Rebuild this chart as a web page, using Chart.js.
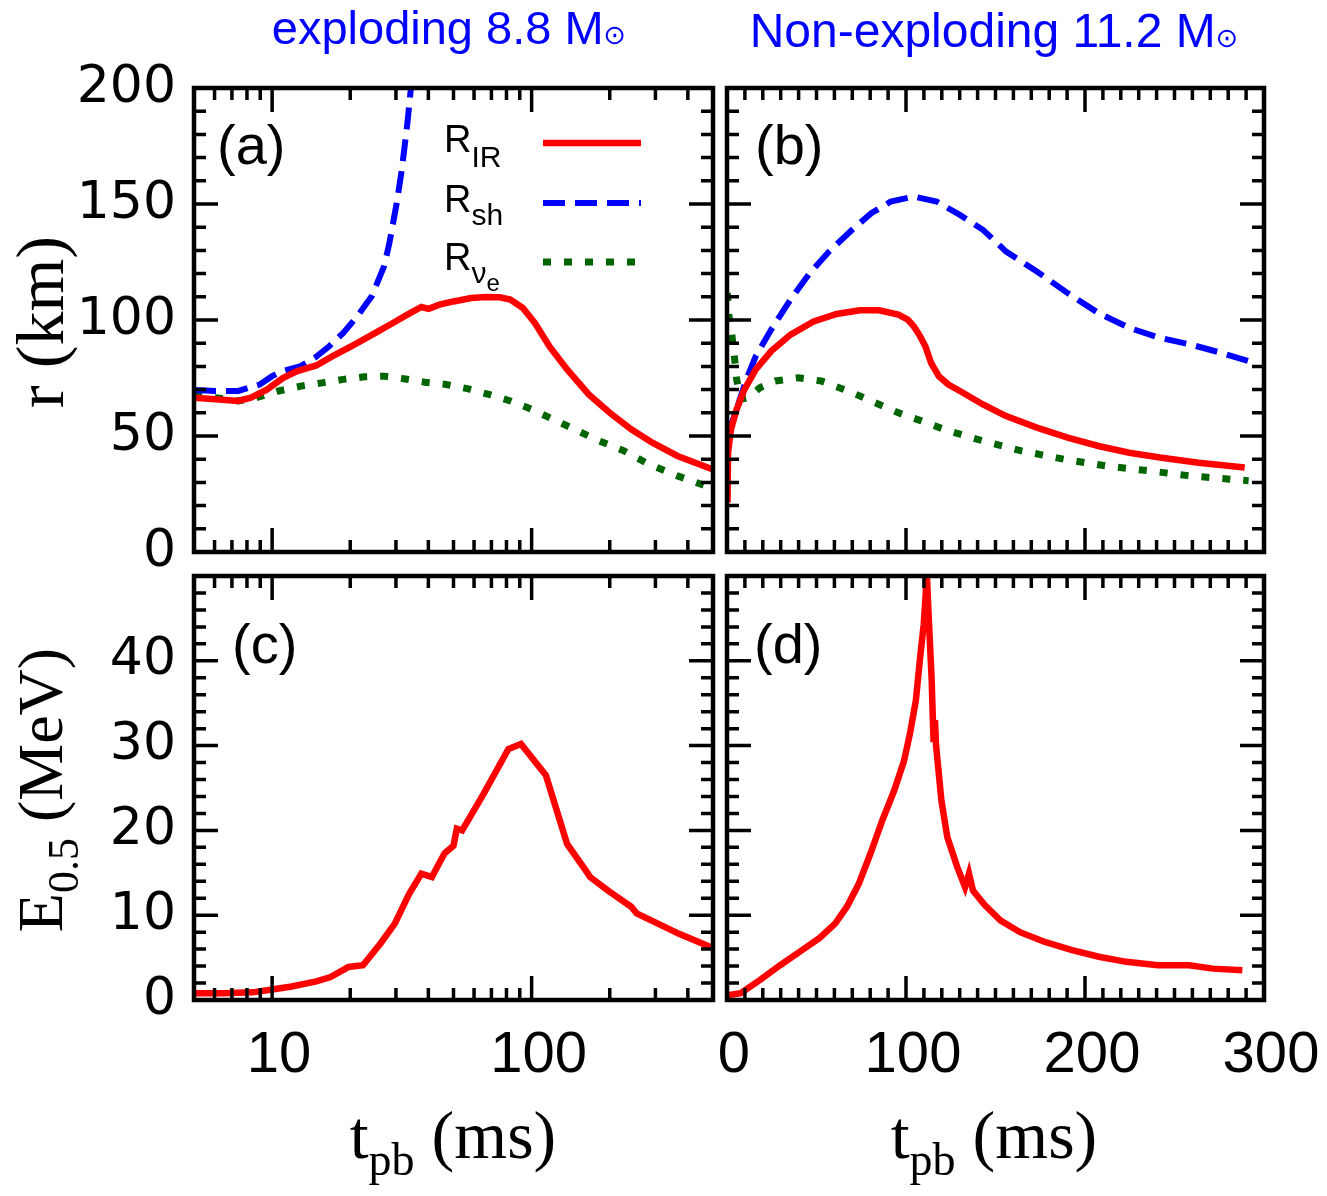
<!DOCTYPE html>
<html lang="en">
<head>
<meta charset="utf-8">
<title>Radii and E0.5 vs post-bounce time</title>
<script src="https://cdn.jsdelivr.net/npm/chart.js@4.4.1/dist/chart.umd.min.js"></script>
<style>
  html, body { margin: 0; padding: 0; background: #ffffff; }
  #figure { position: relative; width: 1327px; height: 1196px; }
  #figure canvas { position: absolute; left: 0; top: 0; }
</style>
</head>
<body>
<div id="figure">
  <canvas id="panelA" width="1327" height="1196"></canvas>
  <canvas id="panelB" width="1327" height="1196"></canvas>
  <canvas id="panelC" width="1327" height="1196"></canvas>
  <canvas id="panelD" width="1327" height="1196"></canvas>
</div>
<script>
// Radii (top) and E_0.5 (bottom) vs t_pb, exploding 8.8 / non-exploding 11.2 Msun

// ---- (a) exploding 8.8, r [km] vs t_pb [ms], log time axis
const irTimeA = [5, 6.05, 7.41, 8.28, 9.54, 11.0, 12.5, 14.8, 17.1, 20.0, 22.3, 25.7, 29.2, 33.2, 37.6, 40.1, 44.1, 50, 58.5, 66.4, 75.3, 82.8, 92.5, 103, 117, 137, 166, 200, 242, 292, 365, 477, 500];
const irRadiusA = [66.5, 65.8, 65.1, 66.5, 70, 75, 78, 80.4, 84.4, 88.4, 91.3, 95.2, 98.7, 102.3, 105.6, 104.8, 106.6, 108, 109.5, 109.9, 109.8, 108.8, 105.2, 98.7, 88.7, 78.7, 67.9, 60, 52.9, 47.1, 41.4, 36.4, 35.6];
const shTimeA = [5, 6.05, 7.41, 8.96, 10, 11.0, 12.9, 14.6, 16.6, 18.8, 21.3, 24.2, 27.0, 28.3, 30.2, 31.6, 33.2, 34.2, 34.7];
const shRadiusA = [69.8, 69.4, 69.4, 72.2, 75.8, 78, 80.1, 83.7, 88.7, 94.4, 101.6, 110.2, 123.1, 133.1, 150.3, 164.7, 184.7, 199, 207.6];
const nuTimeA = [5, 6.05, 7.41, 8.67, 10.6, 12.9, 15.6, 18.8, 22.7, 27.0, 32.1, 38.8, 46.9, 56.6, 68.5, 82.8, 100, 121, 146, 182, 227, 283, 365, 469, 500];
const nuRadiusA = [67.5, 66.5, 65.1, 66.5, 69.4, 71.5, 72.9, 74.4, 75.5, 75.8, 74.7, 73.2, 72.2, 70.4, 67.9, 65.1, 61.5, 57.2, 52.9, 47.9, 43.6, 37.8, 32.8, 28.5, 27.8];

// ---- (b) non-exploding 11.2, linear time axis
const irTimeB = [0.3, 0.6, 2.2, 5.4, 9.7, 16.1, 24.7, 35.5, 48.4, 61.3, 74.2, 84.9, 95.7, 101, 104.3, 107.5, 110.8, 114, 118.3, 123.7, 130.1, 143, 155.9, 173.1, 190.3, 207.5, 224.7, 241.9, 263.4, 289.2];
const irRadiusB = [21.4, 42.8, 52.9, 61.5, 70, 78.7, 86.6, 93.7, 99.4, 102.6, 104.2, 104.2, 102.3, 100.2, 97.3, 93.5, 88.7, 81.5, 75.8, 72.2, 69.4, 63.6, 58.6, 53.6, 49.3, 45.7, 42.8, 40.7, 38.5, 36.4];
const shTimeB = [0, 5.4, 10.8, 16.1, 24.7, 35.5, 46.2, 57, 69.9, 80.6, 91.4, 104.3, 117.2, 130.1, 143, 155.9, 173.1, 190.3, 207.5, 224.7, 241.9, 259.1, 276.3, 291.4];
const shRadiusB = [50, 61.5, 74.4, 84.4, 95.9, 108.8, 120.2, 129.5, 138.9, 146, 151, 153.2, 151, 145.3, 138.9, 129.5, 120.9, 111.6, 103, 96.6, 92.3, 89.4, 85.8, 82.3];
const nuTimeB = [0.2, 1.1, 2.8, 4.3, 5.4, 7.5, 11.8, 18.3, 26.9, 39.8, 52.7, 67.7, 80.6, 95.7, 108.6, 123.7, 143, 164.5, 188.2, 211.8, 235.5, 259.1, 291.4];
const nuRadiusB = [111.6, 101.6, 93, 83, 74.4, 65.8, 66.5, 70.8, 73.7, 75.1, 73.7, 69.4, 65.1, 60, 56.5, 52.2, 47.9, 43.6, 40, 37.1, 35, 32.8, 30.7];

// ---- (c), (d) E_0.5 [MeV]
const eTimeC = [5, 6.53, 8.41, 9.84, 11.9, 14.8, 16.8, 19.7, 22.4, 26.2, 29.7, 33.7, 37.6, 41.3, 43.3, 46.2, 50, 51.5, 54, 65.3, 81.4, 91, 113.5, 137, 163, 168, 197, 242, 254, 370, 484, 500];
const eValueC = [0.8, 0.8, 0.9, 1.2, 1.6, 2.2, 2.7, 3.9, 4.1, 6.7, 9.0, 12.5, 14.9, 14.5, 15.7, 17.3, 18.2, 20.2, 20, 24.3, 29.6, 30.2, 26.5, 18.4, 15.1, 14.5, 12.9, 11, 10.2, 7.8, 6.3, 6.1];
const eTimeD = [0, 1.1, 7.7, 18.7, 29.7, 40.7, 51.6, 60.4, 67, 73.6, 80.2, 86.8, 93.4, 98.9, 102.2, 105.5, 107.7, 109.9, 111, 111.6, 112.7, 114.3, 115.4, 116.2, 116.8, 119.8, 123.1, 128.6, 133, 135.2, 137.4, 144, 152.7, 163.7, 176.9, 192.3, 207.7, 223.1, 240.7, 258.2, 271.4, 287.9];
const eValueD = [0, 0.6, 0.8, 2.4, 4.1, 5.7, 7.3, 9.0, 11, 13.7, 17.3, 21.2, 24.7, 28.2, 31.4, 35.3, 40, 44.3, 47.8, 50.5, 45.1, 38, 30.4, 33.0, 30.0, 23.5, 19.2, 15.7, 13.3, 14.9, 12.9, 11.2, 9.4, 8.0, 6.9, 5.9, 5.1, 4.5, 4.1, 4.1, 3.7, 3.5];

// ---- tick values
const logMajor = [10, 100];
const logMinor = [6, 7, 8, 9, 20, 30, 40, 50, 60, 70, 80, 90, 200, 300, 400];
const linMajor = [0, 100, 200, 300];
const radiusMajor = [0, 50, 100, 150, 200];
const energyMajor = [0, 10, 20, 30, 40, 50];

const SANS = '"Liberation Sans", Arial, sans-serif';
const SERIF = '"Liberation Serif", "Times New Roman", serif';
const DEJAVU = '"DejaVu Sans", sans-serif';

const RED = '#ff0000';
const BLUE = '#0000ff';
const GREEN = '#006400';
const SH_DASH = [22, 10];
const NU_DASH = [8, 13];

const pts = (xs, ys) => xs.map((v, i) => ({ x: v, y: ys[i] }));
const every = (from, to, step) => {
  const out = [];
  for (let v = from; v <= to + 1e-9; v += step) out.push(+v.toFixed(6));
  return out;
};

const irLine = (data) => ({ data, borderColor: RED, borderWidth: 6.5 });
const shLine = (data) => ({ data, borderColor: BLUE, borderWidth: 6, borderDash: SH_DASH });
const nuLine = (data) => ({ data, borderColor: GREEN, borderWidth: 7, borderDash: NU_DASH });

// text with subscript pieces, drawn left to right
function drawParts(ctx, parts, x, y, align) {
  let w = 0;
  parts.forEach((p) => { ctx.font = p.font; p.w = ctx.measureText(p.t).width; w += p.w; });
  let cx = align === 'center' ? x - w / 2 : x;
  parts.forEach((p) => {
    ctx.font = p.font;
    ctx.fillText(p.t, cx, y + (p.dy || 0));
    cx += p.w;
  });
}

function drawFrame(chart, p) {
  const { ctx, chartArea: a } = chart;
  const xs = chart.scales.x;
  const ys = chart.scales.y;
  ctx.save();
  ctx.strokeStyle = '#000';
  ctx.lineWidth = 3.5;
  ctx.setLineDash([]);
  ctx.beginPath();
  const xTicks = (vals, len) => vals.forEach((v) => {
    const px = xs.getPixelForValue(v);
    ctx.moveTo(px, a.top); ctx.lineTo(px, a.top + len);
    ctx.moveTo(px, a.bottom); ctx.lineTo(px, a.bottom - len);
  });
  const yTicks = (vals, len) => vals.forEach((v) => {
    const py = ys.getPixelForValue(v);
    ctx.moveTo(a.left, py); ctx.lineTo(a.left + len, py);
    ctx.moveTo(a.right, py); ctx.lineTo(a.right - len, py);
  });
  xTicks(p.xMinor, 12);
  xTicks(p.xMajor, 24);
  yTicks(p.yMinor, 12);
  yTicks(p.yMajor, 24);
  ctx.stroke();
  ctx.lineWidth = 4.5;
  ctx.strokeRect(a.left, a.top, a.right - a.left, a.bottom - a.top);

  // panel tag
  ctx.fillStyle = '#000';
  ctx.textBaseline = 'alphabetic';
  ctx.textAlign = 'left';
  ctx.font = '56px ' + SANS;
  ctx.fillText(p.tag, p.tagPos[0], p.tagPos[1]);
  ctx.restore();
}

function makePanel(p) {
  const [L, T, R, B] = p.area;
  const yWidth = p.showY ? 150 : 0;
  const xHeight = p.showX ? 100 : 0;
  const chart = new Chart(document.getElementById(p.id), {
    type: 'line',
    data: { datasets: p.datasets },
    options: {
      responsive: false,
      animation: false,
      events: [],
      layout: { padding: { left: L - yWidth, top: T, right: 1327 - R, bottom: 1196 - B - xHeight } },
      elements: { point: { radius: 0 }, line: { tension: 0, borderCapStyle: 'butt' } },
      plugins: { legend: { display: false }, tooltip: { enabled: false }, title: { display: false } },
      scales: {
        x: {
          type: p.xLog ? 'logarithmic' : 'linear',
          min: p.xMin,
          max: p.xMax,
          display: p.showX,
          // invisible tick marks only push the labels down (ticks.padding would also widen the side margins)
          grid: { display: false, drawTicks: true, tickLength: 21 },
          border: { display: false },
          ticks: {
            color: '#000',
            font: { family: SANS, size: 58 },
            padding: 0,
            labelOffset: 7,
            maxRotation: 0,
            autoSkip: false,
            callback: (v) => String(v),
          },
          afterBuildTicks: (s) => { s.ticks = p.xMajor.map((v) => ({ value: v })); },
          afterFit: (s) => { s.height = xHeight; },
        },
        y: {
          min: p.yMin,
          max: p.yMax,
          display: p.showY,
          grid: { display: false, drawTicks: false },
          border: { display: false },
          ticks: {
            color: '#000',
            font: { family: DEJAVU, size: 52 },
            padding: 18,
            autoSkip: false,
            callback: (v) => (p.yHide.includes(v) ? '' : String(v)),
          },
          afterBuildTicks: (s) => { s.ticks = p.yMajor.map((v) => ({ value: v })); },
          afterFit: (s) => { s.width = yWidth; },
        },
      },
    },
    plugins: [{
      id: 'panelDecor',
      afterDraw(c) {
        drawFrame(c, p);
        if (p.extra) {
          const ctx = c.ctx;
          ctx.save();
          ctx.textBaseline = 'alphabetic';
          ctx.textAlign = 'left';
          p.extra(ctx);
          ctx.restore();
        }
      },
    }],
  });

  // nudge the padding so the plot box lands exactly on the target frame
  const ca = chart.chartArea;
  const pad = chart.config.options.layout.padding;
  const dl = L - ca.left, dt = T - ca.top, dr = ca.right - R, db = ca.bottom - B;
  if (Math.abs(dl) + Math.abs(dt) + Math.abs(dr) + Math.abs(db) > 0.5) {
    chart.config.options.layout.padding = {
      left: pad.left + dl,
      top: pad.top + dt,
      right: pad.right + dr,
      bottom: pad.bottom + db,
    };
    chart.update();
  }
  return chart;
}

function drawLegend(ctx) {
  const rows = [
    { y: 152, sub: [{ t: 'IR', font: '30px ' + SANS, dy: 15 }], line: 143, color: RED, width: 6.5, dash: [] },
    { y: 212, sub: [{ t: 'sh', font: '30px ' + SANS, dy: 13 }], line: 203, color: BLUE, width: 6, dash: SH_DASH },
    { y: 270, sub: [{ t: '\u03bd', font: '30px ' + SANS, dy: 13 }, { t: 'e', font: '24px ' + SANS, dy: 21 }], line: 262, color: GREEN, width: 7, dash: NU_DASH },
  ];
  rows.forEach((r) => {
    ctx.fillStyle = '#000';
    drawParts(ctx, [{ t: 'R', font: '38px ' + SANS }].concat(r.sub), 444, r.y, 'left');
    ctx.strokeStyle = r.color;
    ctx.lineWidth = r.width;
    ctx.setLineDash(r.dash);
    ctx.beginPath();
    ctx.moveTo(543, r.line);
    ctx.lineTo(641, r.line);
    ctx.stroke();
  });
  ctx.setLineDash([]);
}

function drawRotated(ctx, parts, x, y) {
  ctx.save();
  ctx.translate(x, y);
  ctx.rotate(-Math.PI / 2);
  ctx.fillStyle = '#000';
  drawParts(ctx, parts, 0, 0, 'center');
  ctx.restore();
}

const tpbTitle = [
  { t: 't', font: '68px ' + SERIF },
  { t: 'pb', font: '46px ' + SERIF, dy: 17 },
  { t: ' (ms)', font: '68px ' + SERIF },
];

makePanel({
  id: 'panelA', area: [194, 88, 713, 552], tag: '(a)', tagPos: [217, 164],
  xLog: true, xMin: 5, xMax: 500, xMajor: logMajor, xMinor: logMinor,
  yMin: 0, yMax: 200, yMajor: radiusMajor, yMinor: every(0, 200, 10), yHide: [],
  showX: false, showY: true,
  datasets: [irLine(pts(irTimeA, irRadiusA)), shLine(pts(shTimeA, shRadiusA)), nuLine(pts(nuTimeA, nuRadiusA))],
  extra: (ctx) => {
    ctx.fillStyle = BLUE;
    drawParts(ctx, [{ t: 'exploding 8.8 M', font: '47px ' + SANS }, { t: '\u2299', font: '27px ' + DEJAVU }], 449, 44, 'center');
    drawRotated(ctx, [{ t: 'r (km)', font: '68px ' + SERIF }], 63, 322);
    drawLegend(ctx);
  },
});

makePanel({
  id: 'panelB', area: [727, 88, 1264, 552], tag: '(b)', tagPos: [755, 164],
  xLog: false, xMin: 0, xMax: 300, xMajor: linMajor, xMinor: every(0, 300, 10),
  yMin: 0, yMax: 200, yMajor: radiusMajor, yMinor: every(0, 200, 10), yHide: [],
  showX: false, showY: false,
  datasets: [irLine(pts(irTimeB, irRadiusB)), shLine(pts(shTimeB, shRadiusB)), nuLine(pts(nuTimeB, nuRadiusB))],
  extra: (ctx) => {
    ctx.fillStyle = BLUE;
    drawParts(ctx, [{ t: 'Non-exploding 11.2 M', font: '48px ' + SANS }, { t: '\u2299', font: '27px ' + DEJAVU }], 994, 47, 'center');
  },
});

makePanel({
  id: 'panelC', area: [194, 576, 713, 1000], tag: '(c)', tagPos: [232, 663],
  xLog: true, xMin: 5, xMax: 500, xMajor: logMajor, xMinor: logMinor,
  yMin: 0, yMax: 50, yMajor: energyMajor, yMinor: every(0, 50, 2), yHide: [50],
  showX: true, showY: true,
  datasets: [irLine(pts(eTimeC, eValueC))],
  extra: (ctx) => {
    drawRotated(ctx, [
      { t: 'E', font: '64px ' + SERIF },
      { t: '0.5', font: '44px ' + SERIF, dy: 16 },
      { t: ' (MeV)', font: '64px ' + SERIF },
    ], 62, 790);
    ctx.fillStyle = '#000';
    drawParts(ctx, tpbTitle, 453, 1158, 'center');
  },
});

makePanel({
  id: 'panelD', area: [727, 576, 1264, 1000], tag: '(d)', tagPos: [754, 663],
  xLog: false, xMin: 0, xMax: 300, xMajor: linMajor, xMinor: every(0, 300, 10),
  yMin: 0, yMax: 50, yMajor: energyMajor, yMinor: every(0, 50, 2), yHide: [50],
  showX: true, showY: false,
  datasets: [irLine(pts(eTimeD, eValueD))],
  extra: (ctx) => {
    ctx.fillStyle = '#000';
    drawParts(ctx, tpbTitle, 994, 1158, 'center');
  },
});
</script>
</body>
</html>
